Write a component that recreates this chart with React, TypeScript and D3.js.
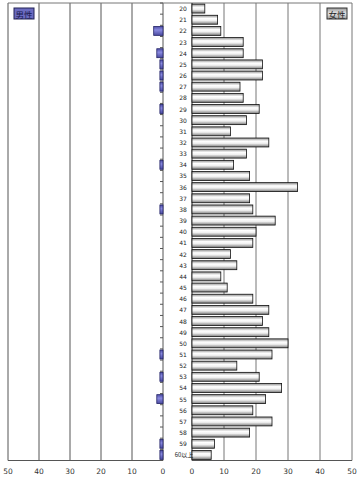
import React from "react";
import * as d3 from "d3";

const categories = ["20","21","22","23","24","25","26","27","28","29","30","31","32","33","34","35","36","37","38","39","40","41","42","43","44","45","46","47","48","49","50","51","52","53","54","55","56","57","58","59","60以上"];
const maleValues = [0,0,3,0,2,1,1,1,0,1,0,0,0,0,1,0,0,0,1,0,0,0,0,0,0,0,0,0,0,0,0,1,0,1,0,2,0,0,0,1,1];
const femaleValues = [4,8,9,16,16,22,22,15,16,21,17,12,24,17,13,18,33,18,19,26,20,19,12,14,9,11,19,24,22,24,30,25,14,21,28,23,19,25,18,7,6];
const tickValues = [0,10,20,30,40,50];
const legendMale = "男性";
const legendFemale = "女性";

const W = 361, H = 480;
const top = 3, bottom = 460.5;

export default function App() {
  const y = d3.scaleBand<string>().domain(categories).range([top, bottom]).paddingInner(0.2).paddingOuter(0.1);
  const yb = d3.scaleBand<string>().domain(categories).range([top, bottom]);
  const xl = d3.scaleLinear().domain([0, 50]).range([163, 8]);
  const xr = d3.scaleLinear().domain([0, 50]).range([192, 352]);
  const font = "'DejaVu Sans', 'Noto Sans CJK JP', sans-serif";
  const cjk = "'Noto Sans CJK JP', sans-serif";

  return (
    <svg width={W} height={H} style={{ position: "absolute", left: 0, top: 0, background: "#fff" }}>
      <defs>
        <linearGradient id="fg" x1="0" y1="0" x2="0" y2="1">
          <stop offset="0%" stopColor="#8c8c8c" />
          <stop offset="35%" stopColor="#ffffff" />
          <stop offset="60%" stopColor="#f0f0f0" />
          <stop offset="100%" stopColor="#7a7a7a" />
        </linearGradient>
        <linearGradient id="mg" x1="0" y1="0" x2="0" y2="1">
          <stop offset="0%" stopColor="#5050a8" />
          <stop offset="40%" stopColor="#8a8ae0" />
          <stop offset="100%" stopColor="#4a4aa0" />
        </linearGradient>
        <linearGradient id="lg" x1="0" y1="0" x2="0" y2="1">
          <stop offset="0%" stopColor="#9a9a9a" />
          <stop offset="50%" stopColor="#e8e8e8" />
          <stop offset="100%" stopColor="#9a9a9a" />
        </linearGradient>
      </defs>

      {tickValues.map((t) => (
        <line key={"gl" + t} x1={xl(t)} x2={xl(t)} y1={top} y2={bottom} stroke="#555" strokeWidth={1} />
      ))}
      <line x1={8} x2={163} y1={bottom} y2={bottom} stroke="#555" />
      <line x1={8} x2={352} y1={top} y2={top} stroke="#777" />
      {categories.map((c) => (
        <line key={"lt" + c} x1={160} x2={163} y1={yb(c)!} y2={yb(c)!} stroke="#555" />
      ))}

      {tickValues.map((t) => (
        <line key={"gr" + t} x1={xr(t)} x2={xr(t)} y1={top} y2={bottom} stroke={t === 0 ? "#222" : "#777"} strokeWidth={1} />
      ))}
      <line x1={192} x2={352} y1={bottom} y2={bottom} stroke="#555" />

      {categories.map((c, i) =>
        maleValues[i] > 0 ? (
          <rect key={"m" + c} x={xl(maleValues[i])} y={y(c)!} width={xl(0) - xl(maleValues[i])} height={y.bandwidth()} fill="url(#mg)" stroke="#222266" strokeWidth={0.8} />
        ) : null
      )}

      {categories.map((c, i) => (
        <rect key={"f" + c} x={xr(0)} y={y(c)!} width={xr(femaleValues[i]) - xr(0)} height={y.bandwidth()} fill="url(#fg)" stroke="#111" strokeWidth={0.8} />
      ))}

      {categories.map((c) => (
        <text key={"c" + c} x={c.length > 2 ? 184 : 183} y={yb(c)! + yb.bandwidth() / 2} textAnchor="middle" dominantBaseline="central" fontSize={6} fontFamily={c.length > 2 ? cjk : font} fill="#222">{c}</text>
      ))}

      {tickValues.map((t) => (
        <text key={"tl" + t} x={xl(t)} y={471} textAnchor="middle" dominantBaseline="central" fontSize={7.5} fontFamily={font} fill="#333">{t}</text>
      ))}
      {tickValues.map((t) => (
        <text key={"tr" + t} x={xr(t)} y={471} textAnchor="middle" dominantBaseline="central" fontSize={7.5} fontFamily={font} fill="#333">{t}</text>
      ))}

      <rect x={14} y={8} width={20} height={11} fill="#6b6bc0" stroke="#222255" strokeWidth={1} />
      <text x={24} y={13.8} textAnchor="middle" dominantBaseline="central" fontSize={8.5} fontFamily={cjk} fill="#1a1a50">{legendMale}</text>
      <rect x={327} y={8} width={20} height={11} fill="url(#lg)" stroke="#333" strokeWidth={1} />
      <text x={337} y={13.8} textAnchor="middle" dominantBaseline="central" fontSize={8.5} fontFamily={cjk} fill="#222">{legendFemale}</text>
    </svg>
  );
}
